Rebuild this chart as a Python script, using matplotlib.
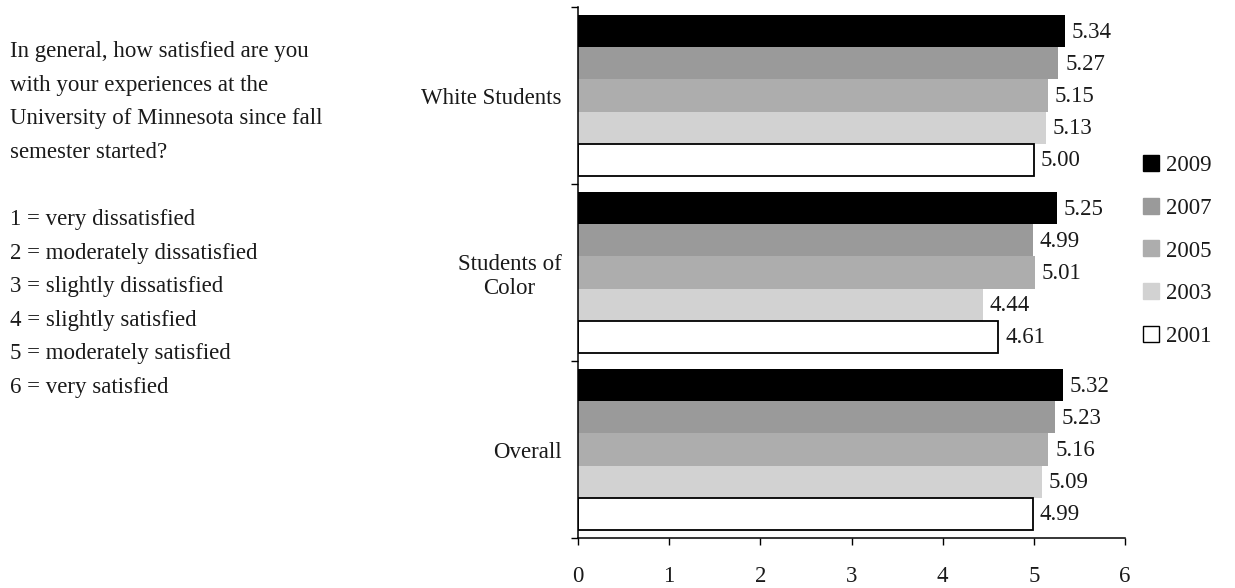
import matplotlib
matplotlib.use("Agg")
import matplotlib.pyplot as plt
from matplotlib.lines import Line2D

# Survey results: mean satisfaction (1-6 scale) by group and survey year
groups = ["White Students", "Students of\nColor", "Overall"]
years = ["2009", "2007", "2005", "2003", "2001"]
vals_2009 = [5.34, 5.25, 5.32]
vals_2007 = [5.27, 4.99, 5.23]
vals_2005 = [5.15, 5.01, 5.16]
vals_2003 = [5.13, 4.44, 5.09]
vals_2001 = [5.00, 4.61, 4.99]
series = [vals_2009, vals_2007, vals_2005, vals_2003, vals_2001]

x_ticks = [0, 1, 2, 3, 4, 5, 6]

question_lines = [
    "In general, how satisfied are you",
    "with your experiences at the",
    "University of Minnesota since fall",
    "semester started?",
    "",
    "1 = very dissatisfied",
    "2 = moderately dissatisfied",
    "3 = slightly dissatisfied",
    "4 = slightly satisfied",
    "5 = moderately satisfied",
    "6 = very satisfied",
]

fills = ["#000000", "#9a9a9a", "#adadad", "#d2d2d2", "#ffffff"]
edges = ["none", "none", "none", "none", "#000000"]

FONT = "Liberation Serif"
FS = 16.5
TXT = "#1a1a1a"

W, H = 1235, 588
fig = plt.figure(figsize=(W / 100, H / 100), dpi=100)
fig.patch.set_facecolor("white")

ax = fig.add_axes([578 / W, 1 - 538 / H, (1125 - 578) / W, 531 / H])

bar_h = 0.181
centers = [0.5, 1.5, 2.5]
for j, (vals, fc, ec) in enumerate(zip(series, fills, edges)):
    ys = [c + (j - 2) * bar_h for c in centers]
    ax.barh(ys, vals, height=bar_h, color=fc, edgecolor=ec,
            linewidth=1.3 if ec != "none" else 0, zorder=2)
    for y, v in zip(ys, vals):
        ax.annotate(f"{v:.2f}", xy=(v, y), xytext=(5, -1),
                    textcoords="offset points", va="center", ha="left",
                    fontsize=FS, family=FONT, color=TXT)

ax.set_xlim(0, 6)
ax.set_ylim(3, 0)

ax.set_xticks(x_ticks)
ax.set_xticklabels([str(t) for t in x_ticks], family=FONT, fontsize=FS, color=TXT)
ax.tick_params(axis="x", direction="out", length=5, width=1, pad=15, colors="#000000",
               labelcolor=TXT)

ax.set_yticks([0, 1, 2, 3])
ax.set_yticklabels([])
ax.set_yticks(centers, minor=True)
ax.set_yticklabels(groups, minor=True, family=FONT, fontsize=FS, color=TXT,
                   multialignment="center")
ax.tick_params(axis="y", which="major", direction="out", length=5, width=1)
ax.tick_params(axis="y", which="minor", length=0, pad=12)

for side in ("top", "right"):
    ax.spines[side].set_visible(False)
for side in ("left", "bottom"):
    ax.spines[side].set_linewidth(1.1)
    ax.spines[side].set_color("#000000")

handles = [Line2D([], [], marker="s", linestyle="none", markersize=11,
                  markerfacecolor=fc, markeredgecolor=("#000000" if ec != "none" else fc),
                  markeredgewidth=1.0)
           for fc, ec in zip(fills, edges)]
fig.legend(handles, years, loc="center left", bbox_to_anchor=(1142 / W, 1 - 251 / H),
           frameon=False, prop={"family": FONT, "size": FS}, labelcolor=TXT,
           handlelength=0.75, handletextpad=0.3, labelspacing=0.95,
           borderpad=0, borderaxespad=0)

top_y = 52
step = 33.5
for i, line in enumerate(question_lines):
    if line:
        fig.text(10 / W, 1 - (top_y + i * step) / H, line, ha="left", va="center",
                 family=FONT, fontsize=FS, color=TXT)

fig.savefig("out.png", dpi=100, facecolor="white")
